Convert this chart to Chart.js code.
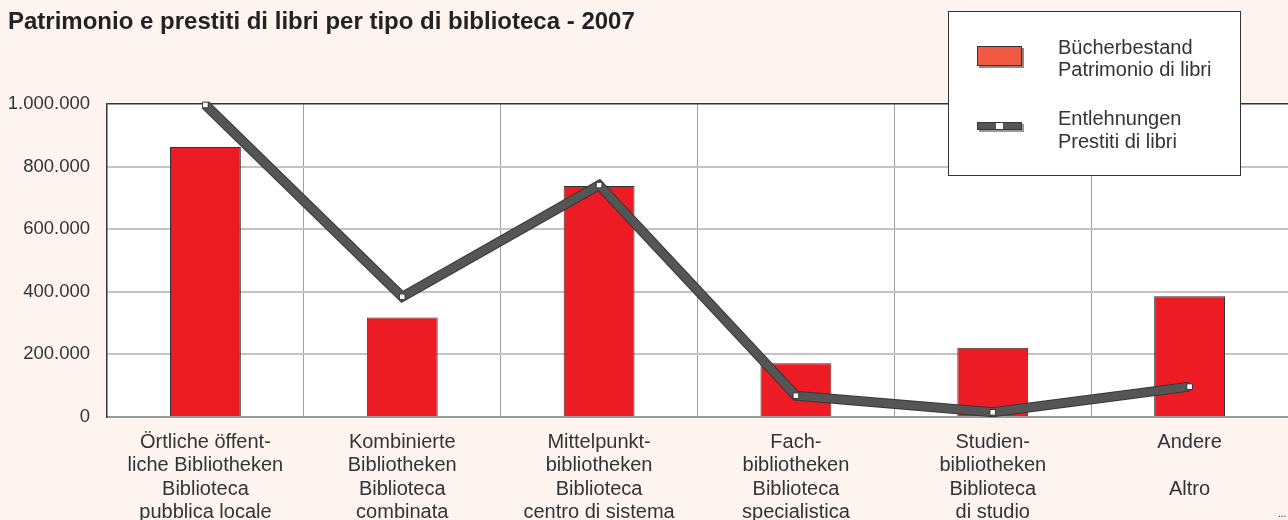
<!DOCTYPE html>
<html>
<head>
<meta charset="utf-8">
<script src="https://cdn.jsdelivr.net/npm/chart.js@4.4.0/dist/chart.umd.min.js"></script>
<style>
  html, body { margin: 0; padding: 0; background: #fdf4ef; }
  #wrap { width: 1288px; height: 520px; }
</style>
</head>
<body>
<div id="wrap"><canvas id="chart" width="1288" height="520"></canvas></div>
<script>
const titleText = 'Patrimonio e prestiti di libri per tipo di biblioteca - 2007';
const categories = [
  ['Örtliche öffent-', 'liche Bibliotheken', 'Biblioteca', 'pubblica locale'],
  ['Kombinierte', 'Bibliotheken', 'Biblioteca', 'combinata'],
  ['Mittelpunkt-', 'bibliotheken', 'Biblioteca', 'centro di sistema'],
  ['Fach-', 'bibliotheken', 'Biblioteca', 'specialistica'],
  ['Studien-', 'bibliotheken', 'Biblioteca', 'di studio'],
  ['Andere', '', 'Altro']
];
const patrimonioLabel = ['Bücherbestand', 'Patrimonio di libri'];
const prestitiLabel = ['Entlehnungen', 'Prestiti di libri'];
const patrimonio = [863000, 318000, 738000, 172000, 221000, 386000];
const prestiti = [997000, 384000, 741000, 68000, 15000, 97000];
const yMax = 1000000;
const yStep = 200000;

const FONT = '"Liberation Sans", Arial, sans-serif';

function fmt(v) {
  return String(v).replace(/\B(?=(\d{3})+(?!\d))/g, '.');
}

const decor = {
  id: 'decor',
  beforeDraw(chart) {
    const { ctx, chartArea: a } = chart;
    ctx.save();
    ctx.fillStyle = '#ffffff';
    ctx.fillRect(a.left, a.top, a.right - a.left, a.bottom - a.top);
    ctx.restore();
  },
  // thin dark edge under the thick line
  beforeDatasetDraw(chart, args) {
    if (args.index !== 0) return;
    const pts = args.meta.data;
    const ctx = chart.ctx;
    ctx.save();
    ctx.strokeStyle = '#383838';
    ctx.lineWidth = 10;
    ctx.lineJoin = 'miter';
    ctx.beginPath();
    pts.forEach((p, i) => i ? ctx.lineTo(p.x, p.y) : ctx.moveTo(p.x, p.y));
    ctx.stroke();
    ctx.restore();
  },
  afterDraw(chart) {
    const ctx = chart.ctx;
    ctx.save();
    // title
    ctx.fillStyle = '#222';
    ctx.font = 'bold 24px ' + FONT;
    ctx.textBaseline = 'middle';
    ctx.textAlign = 'left';
    ctx.fillText(titleText, 8, 22);

    // legend box
    ctx.fillStyle = '#fff';
    ctx.fillRect(948.5, 11.5, 292, 164);
    ctx.strokeStyle = '#333';
    ctx.lineWidth = 1;
    ctx.strokeRect(948.5, 11.5, 292, 164);

    // bar swatch
    ctx.fillStyle = '#8a8a8a';
    ctx.fillRect(979, 48, 45, 20);
    ctx.fillStyle = '#f15a40';
    ctx.fillRect(977, 46, 45, 20);
    ctx.strokeStyle = '#333';
    ctx.strokeRect(977.5, 46.5, 44, 19);

    // line swatch
    ctx.fillStyle = '#999';
    ctx.fillRect(979, 124, 45, 8);
    ctx.fillStyle = '#555';
    ctx.fillRect(977, 122, 45, 8);
    ctx.strokeStyle = '#383838';
    ctx.strokeRect(977.5, 122.5, 44, 7);
    ctx.fillStyle = '#fff';
    ctx.fillRect(996, 123, 7, 6);

    ctx.fillStyle = '#333';
    ctx.font = '20px ' + FONT;
    ctx.fillText(patrimonioLabel[0], 1058, 48);
    ctx.fillText(patrimonioLabel[1], 1058, 70);
    ctx.fillText(prestitiLabel[0], 1058, 119);
    ctx.fillText(prestitiLabel[1], 1058, 142);

    ctx.font = '10px ' + FONT;
    ctx.fillText('...', 1278, 514);
    ctx.restore();
  }
};

new Chart(document.getElementById('chart').getContext('2d'), {
  type: 'bar',
  data: {
    labels: categories,
    datasets: [
      {
        type: 'line',
        label: prestitiLabel,
        data: prestiti,
        borderColor: '#555555',
        borderWidth: 8,
        tension: 0,
        pointStyle: 'rect',
        pointRadius: 4,
        pointBackgroundColor: '#fff',
        pointBorderColor: '#333',
        pointBorderWidth: 1,
        clip: false,
        order: 0
      },
      {
        type: 'bar',
        label: patrimonioLabel,
        data: patrimonio,
        backgroundColor: '#ed1c24',
        borderColor: '#333',
        borderWidth: 1,
        barPercentage: 0.36,
        categoryPercentage: 1,
        order: 1
      }
    ]
  },
  options: {
    responsive: false,
    animation: false,
    devicePixelRatio: 1,
    layout: { autoPadding: false, padding: { top: 104, right: 0, left: 0, bottom: 0 } },
    plugins: {
      legend: { display: false },
      tooltip: { enabled: false }
    },
    scales: {
      x: {
        afterFit(s) { s.height = 103; },
        grid: { color: '#a0a0a0', lineWidth: 1, drawTicks: false },
        border: { color: '#999', width: 2 },
        ticks: {
          color: '#333',
          padding: 14,
          maxRotation: 0,
          autoSkip: false,
          font: { family: FONT, size: 20, lineHeight: 1.16 }
        }
      },
      y: {
        min: 0,
        max: yMax,
        afterFit(s) { s.width = 107; },
        grid: {
          drawTicks: false,
          color: c => c.tick && c.tick.value === yMax ? '#333' : '#c4c4c4',
          lineWidth: c => c.tick && c.tick.value === yMax ? 1.5 : 2
        },
        border: { color: '#333', width: 1.5 },
        ticks: {
          stepSize: yStep,
          color: '#333',
          padding: 17,
          font: { family: FONT, size: 18.5 },
          callback: v => fmt(v)
        }
      }
    }
  },
  plugins: [decor]
});
</script>
</body>
</html>
